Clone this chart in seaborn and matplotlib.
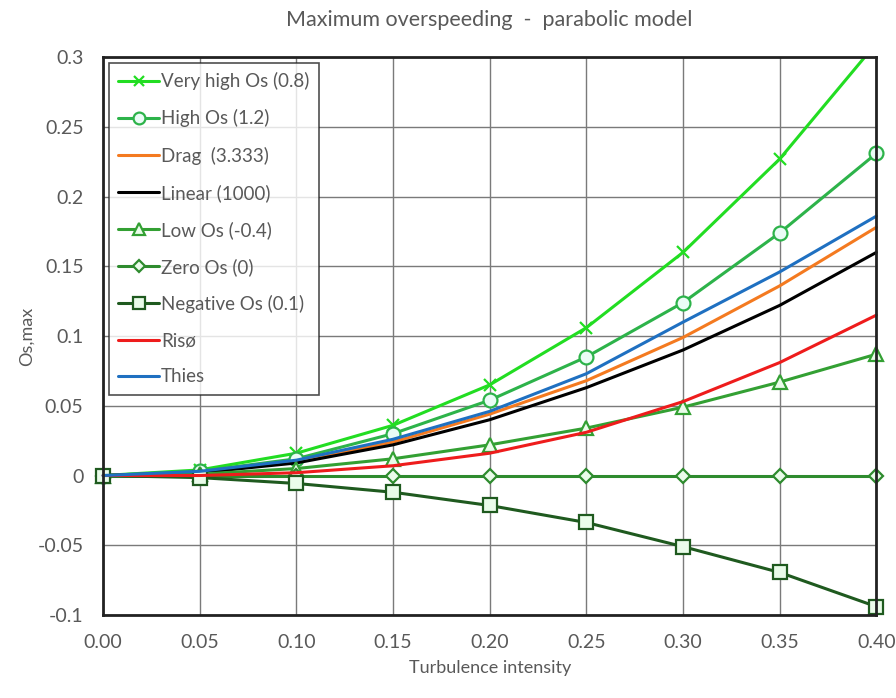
import matplotlib
matplotlib.use("Agg")
import matplotlib.pyplot as plt
import numpy as np
import pandas as pd
import seaborn as sns

# Turbulence intensity grid
ti = [0.00, 0.05, 0.10, 0.15, 0.20, 0.25, 0.30, 0.35, 0.40]

very_high = [0.0, 0.004, 0.016, 0.036, 0.065, 0.106, 0.160, 0.227, 0.310]
high = [0.0, 0.003, 0.012, 0.030, 0.054, 0.085, 0.124, 0.174, 0.231]
drag = [0.0, 0.002, 0.010, 0.024, 0.044, 0.068, 0.099, 0.136, 0.178]
linear = [0.0, 0.002, 0.009, 0.022, 0.040, 0.063, 0.090, 0.122, 0.160]
low = [0.0, 0.001, 0.005, 0.012, 0.022, 0.034, 0.049, 0.067, 0.087]
zero = [0.0, 0.0, 0.0, 0.0, 0.0, 0.0, 0.0, 0.0, 0.0]
negative = [0.0, -0.0015, -0.0057, -0.012, -0.0215, -0.0337, -0.051, -0.0695, -0.094]
riso = [0.0, 0.0, 0.002, 0.007, 0.016, 0.031, 0.053, 0.081, 0.115]
thies = [0.0, 0.003, 0.011, 0.026, 0.046, 0.073, 0.110, 0.146, 0.186]

x_ticks = [0.00, 0.05, 0.10, 0.15, 0.20, 0.25, 0.30, 0.35, 0.40]
y_ticks = [-0.1, -0.05, 0, 0.05, 0.1, 0.15, 0.2, 0.25, 0.3]
y_tick_labels = ["-0.1", "-0.05", "0", "0.05", "0.1", "0.15", "0.2", "0.25", "0.3"]

# label, values, color, marker, marker face, marker size
series = [
    ("Very high Os (0.8)", very_high, "#22dd22", "x", "none", 9),
    ("High Os (1.2)", high, "#2db34a", "o", "#eafcf6", 10),
    ("Drag  (3.333)", drag, "#f47a20", None, None, 0),
    ("Linear (1000)", linear, "#000000", None, None, 0),
    ("Low Os (-0.4)", low, "#33a033", "^", "#eafcea", 10),
    ("Zero Os (0)", zero, "#2e8b2e", "D", "#eafcea", 7),
    ("Negative Os (0.1)", negative, "#1f5a1f", "s", "#eafcea", 10),
    ("Risø", riso, "#ee1c1c", None, None, 0),
    ("Thies", thies, "#1f70c1", None, None, 0),
]

sns.set_theme(style="whitegrid")
plt.rcParams["font.family"] = ["Lato", "DejaVu Sans"]

fig = plt.figure(figsize=(8.96, 6.98), dpi=100)
ax = fig.add_axes([0.115, 0.119, 0.863, 0.799])

for label, vals, color, marker, face, ms in series:
    df = pd.DataFrame({"ti": ti, "os": vals})
    kw = dict(color=color, linewidth=2.2, label=label)
    if marker is not None:
        kw.update(marker=marker, markersize=ms, markerfacecolor=face,
                  markeredgecolor=color, markeredgewidth=1.6)
    # markers on the right edge are drawn whole, except the curve that leaves the top
    kw["clip_on"] = label.startswith("Very high")
    sns.lineplot(data=df, x="ti", y="os", ax=ax, **kw)

ax.set_xlim(0, 0.40)
ax.set_ylim(-0.1, 0.3)
ax.set_xticks(x_ticks)
ax.set_xticklabels([f"{v:.2f}" for v in x_ticks])
ax.set_yticks(y_ticks)
ax.set_yticklabels(y_tick_labels)
ax.tick_params(axis="both", labelsize=14, colors="#595959", pad=8)

ax.grid(True, color="#7a7a7a", linewidth=1.0)
ax.set_facecolor("white")
for side in ["top", "bottom", "right", "left"]:
    ax.spines[side].set_visible(True)
    ax.spines[side].set_color("#222222")
    ax.spines[side].set_linewidth(2.0)

ax.set_xlabel("Turbulence intensity", fontsize=13, color="#595959", labelpad=6)
ax.set_ylabel("Os,max", fontsize=13, color="#595959", labelpad=2)
fig.suptitle("Maximum overspeeding  -  parabolic model", fontsize=15.5,
             color="#595959", x=0.546, y=0.985)

leg = ax.legend(loc="upper left", fontsize=13.5, labelspacing=1.02,
                handlelength=2.2, handletextpad=0.1, borderpad=0.5,
                frameon=True, fancybox=False, borderaxespad=0.3,
                markerscale=0.85)
leg.get_frame().set_edgecolor("#222222")
leg.get_frame().set_linewidth(1.2)
for t in leg.get_texts():
    t.set_color("#595959")

fig.savefig("out.png", dpi=100, facecolor="white")
